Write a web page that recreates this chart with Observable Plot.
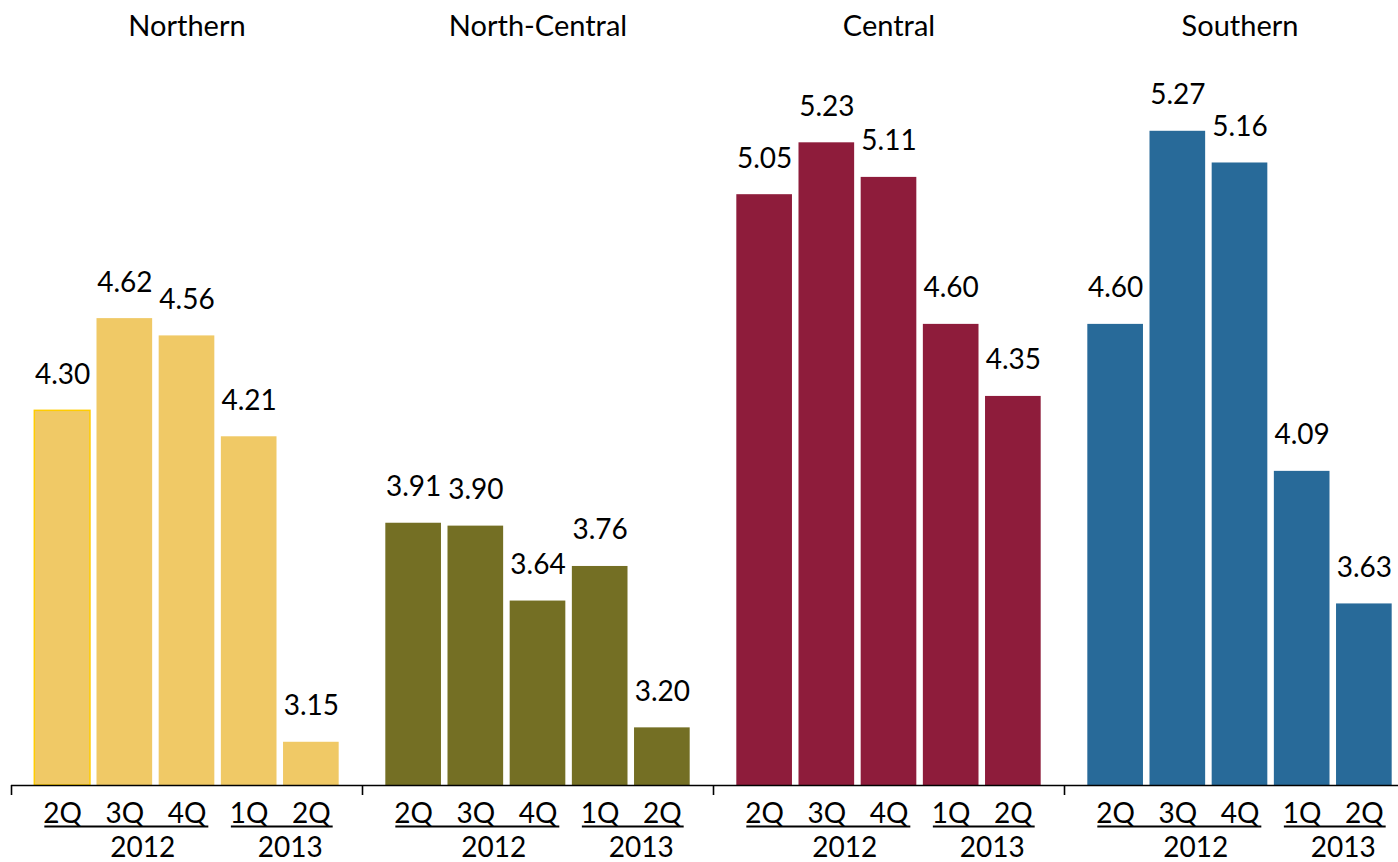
<!DOCTYPE html>
<html>
<head>
<meta charset="utf-8">
<script src="https://cdn.jsdelivr.net/npm/d3@7"></script>
<script src="https://cdn.jsdelivr.net/npm/@observablehq/plot@0.6"></script>
<style>
  html, body { margin: 0; padding: 0; background: #fff; overflow: hidden; }
  #chart { width: 1398px; height: 862px; overflow: hidden; }
</style>
</head>
<body>
<div id="chart"></div>
<script>
// ---- data ----
const regions = ["Northern", "North-Central", "Central", "Southern"];
const quarters = ["2Q 2012", "3Q 2012", "4Q 2012", "1Q 2013", "2Q 2013"];
const quarterLabels = ["2Q", "3Q", "4Q", "1Q", "2Q"];
const years = ["2012", "2013"];
const yearStart = ["2Q 2012", "1Q 2013"];
const yearEnd = ["4Q 2012", "2Q 2013"];
const northern = [4.30, 4.62, 4.56, 4.21, 3.15];
const northCentral = [3.91, 3.90, 3.64, 3.76, 3.20];
const central = [5.05, 5.23, 5.11, 4.60, 4.35];
const southern = [4.60, 5.27, 5.16, 4.09, 3.63];
const colors = ["#F0C966", "#746F24", "#8E1C3B", "#286A99"];

const series = [northern, northCentral, central, southern];
const rows = [];
regions.forEach((r, ri) => quarters.forEach((q, qi) => rows.push({region: r, quarter: q, value: series[ri][qi]})));
const qLabelRows = [];
regions.forEach(r => quarters.forEach((q, qi) => qLabelRows.push({region: r, quarter: q, label: quarterLabels[qi]})));
const yearRows = [];
regions.forEach(r => years.forEach((y, yi) => yearRows.push({region: r, year: y, start: yearStart[yi], end: yearEnd[yi]})));

// ---- layout ----
const W = 1398, H = 862;
const marginTop = 64.5, marginBottom = 77;
const padInner = 0.105, padOuter = 0.375;
const facetW = 351;
const step = facetW / (quarters.length - padInner + 2 * padOuter);
const firstCenter = padOuter * step + (1 - padInner) * step / 2;
const font = "Lato, 'Noto Sans', sans-serif";
const fs = 28;

const plot = Plot.plot({
  width: W,
  height: H,
  marginTop, marginBottom, marginLeft: 0, marginRight: 0,
  style: {fontFamily: font, fontSize: fs + "px", color: "#000", background: "#fff"},
  fx: {domain: regions, range: [11, 11 + 4 * facetW], padding: 0, axis: null},
  x: {domain: quarters, paddingInner: padInner, paddingOuter: padOuter, round: false, axis: null},
  y: {domain: [3, 5.5], axis: null},
  color: {domain: regions, range: colors},
  marks: [
    Plot.barY(rows, {fx: "region", x: "quarter", y1: 3, y2: "value", fill: "region",
      stroke: d => (d.region === "Northern" && d.quarter === "2Q 2012") ? "#FFCC00" : "none", strokeWidth: 1.5}),
    Plot.text(rows, {fx: "region", x: "quarter", y: "value", text: d => d.value.toFixed(2),
      lineAnchor: "bottom", dy: -27, fontSize: fs, fill: "#000"}),
    // titles
    Plot.text(regions, {fx: d => d, text: d => d, frameAnchor: "top", lineAnchor: "top", dy: -50, fontSize: 29, fill: "#000"}),
    // axis baseline
    Plot.ruleY([3], {stroke: "#000", strokeWidth: 1.6}),
    // facet boundary ticks
    Plot.ruleX(regions, {fx: d => d, x: () => quarters[0], dx: -firstCenter, stroke: "#000", strokeWidth: 1.6,
      insetTop: H - marginTop - marginBottom, insetBottom: -10}),
    // quarter labels
    Plot.text(qLabelRows, {fx: "region", x: "quarter", y: () => 3, text: "label", lineAnchor: "top", dy: 18, fontSize: fs, fill: "#000"}),
    // year group underlines
    Plot.ruleY(yearRows, {fx: "region", x1: "start", x2: "end", y: () => 3, dy: 41, insetLeft: 10, insetRight: 6, stroke: "#000", strokeWidth: 1.8}),
    // year labels
    Plot.text(yearRows.filter(d => d.year === "2012"), {fx: "region", x: () => "3Q 2012", y: () => 3, text: "year", lineAnchor: "top", dy: 52, dx: 18, fontSize: fs, fill: "#000"}),
    Plot.text(yearRows.filter(d => d.year === "2013"), {fx: "region", x: () => "1Q 2013", y: () => 3, text: "year", lineAnchor: "top", dy: 52, dx: step / 2 + 10, fontSize: fs, fill: "#000"})
  ]
});
document.getElementById("chart").appendChild(plot);
</script>
</body>
</html>
